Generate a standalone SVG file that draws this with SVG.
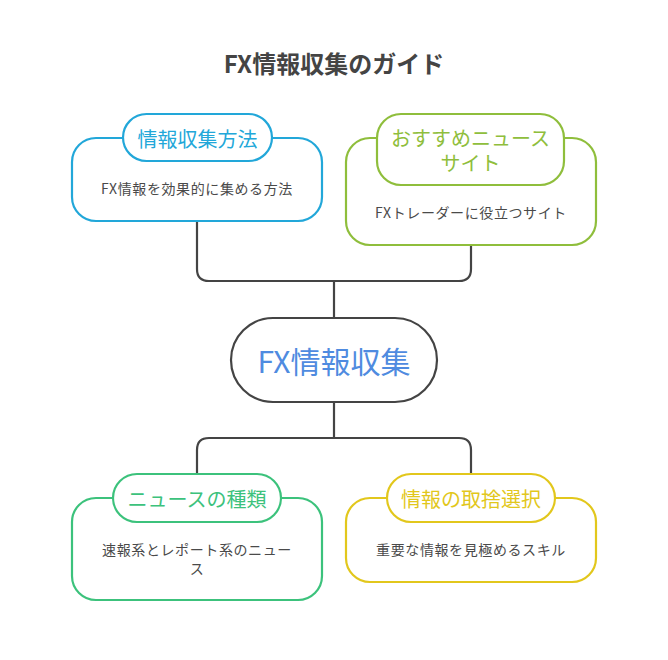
<svg xmlns="http://www.w3.org/2000/svg" width="668" height="660" viewBox="0 0 668 660">
<style>
text{font-family:"Noto Sans CJK JP","Noto Sans",sans-serif;text-anchor:middle;dominant-baseline:central}
.body{fill:#4a4a4a;font-size:14px;letter-spacing:0.6px}
.lbl{font-size:20px}
.box{fill:#fff;stroke-width:2.2}
.conn{fill:none;stroke:#444;stroke-width:2.2}
</style>
<rect width="668" height="660" fill="#fff"/>
<text x="334" y="62" style="font-size:24px;font-weight:bold;fill:#444">FX情報収集のガイド</text>
<g id="connectors">
<path class="conn" d="M197 221 V269 Q197 281 209 281 H459 Q471 281 471 269 V245"/>
<path class="conn" d="M334 281 V318"/>
<path class="conn" d="M334 402 V438"/>
<path class="conn" d="M197 474 V450 Q197 438 209 438 H459 Q471 438 471 450 V474"/>
</g>
<g id="node-hoho">
<rect class="box" x="72" y="138" width="250" height="83" rx="24" stroke="#22a7d9"/>
<rect class="box" x="123" y="114" width="149" height="47" rx="23.5" stroke="#22a7d9"/>
<text class="lbl" x="197.5" y="138" fill="#22a7d9">情報収集方法</text>
<text class="body" x="197" y="188">FX情報を効果的に集める方法</text>
</g>
<g id="node-site">
<rect class="box" x="346" y="138" width="250" height="107" rx="24" stroke="#8fbe3c"/>
<rect class="box" x="377" y="114" width="187" height="71" rx="24" stroke="#8fbe3c"/>
<text class="lbl" x="470.5" y="137" fill="#8fbe3c">おすすめニュース</text>
<text class="lbl" x="470.5" y="162" fill="#8fbe3c">サイト</text>
<text class="body" x="471" y="212">FXトレーダーに役立つサイト</text>
</g>
<g id="node-center">
<rect x="231" y="318" width="206" height="84" rx="42" fill="#fff" stroke="#444" stroke-width="2.2"/>
<text x="334" y="360" style="font-size:30px;fill:#4f8be0">FX情報収集</text>
</g>
<g id="node-news">
<rect class="box" x="72" y="498" width="250" height="102" rx="24" stroke="#3cc27c"/>
<rect class="box" x="113" y="474" width="168" height="48" rx="24" stroke="#3cc27c"/>
<text class="lbl" x="197" y="498" fill="#3cc27c">ニュースの種類</text>
<text class="body" x="197" y="549">速報系とレポート系のニュー</text>
<text class="body" x="197" y="568">ス</text>
</g>
<g id="node-select">
<rect class="box" x="346" y="498" width="250" height="84" rx="24" stroke="#e2c71c"/>
<rect class="box" x="387" y="474" width="168" height="48" rx="24" stroke="#e2c71c"/>
<text class="lbl" x="471" y="498" fill="#e2c71c">情報の取捨選択</text>
<text class="body" x="471" y="549">重要な情報を見極めるスキル</text>
</g>
</svg>
